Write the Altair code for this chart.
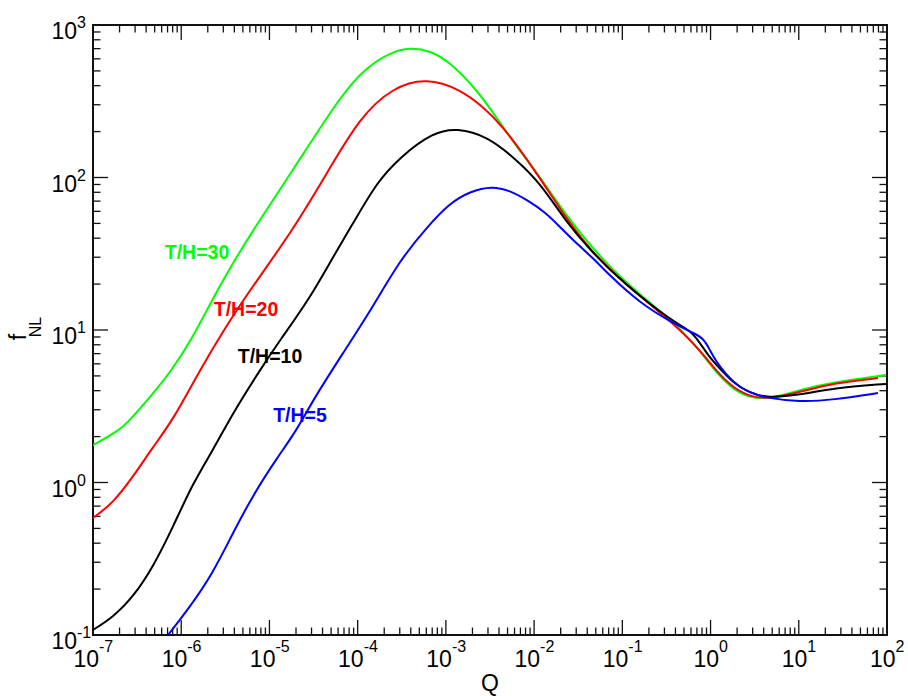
import altair as alt
import pandas as pd

# ---------------- data ----------------
series_names = ["T/H=30", "T/H=20", "T/H=10", "T/H=5"]
series_colors = ["#00ff00", "#ff0000", "#000000", "#0000ff"]

q_green = [1.00e-7, 2.02e-7, 2.62e-7, 4.43e-7, 7.46e-7, 1.36e-6, 2.23e-6, 3.57e-6, 6.52e-6, 1.85e-5,
           6.83e-5, 1.28e-4, 2.33e-4, 3.92e-4, 6.61e-4, 1.11e-3, 2.25e-3, 3.79e-3, 6.40e-3, 1.17e-2,
           2.36e-2, 5.89e-2, 0.158, 0.375, 0.585, 0.912, 1.18, 1.80, 3.03, 5.10, 10.3, 24.4, 97.5]
f_green = [1.76, 2.21, 2.57, 3.64, 5.22, 8.99, 15.7, 25.5, 45.3, 112,
           364, 531, 660, 712, 680, 572, 375, 245, 158, 101,
           55.1, 28.8, 17.0, 11.3, 8.7, 6.35, 5.22, 4.05, 3.53, 3.58, 4.05, 4.56, 5.07]

q_red = [1.00e-7, 1.69e-7, 2.84e-7, 4.79e-7, 8.07e-7, 1.63e-6, 3.30e-6, 6.03e-6, 1.85e-5, 4.49e-5,
         1.06e-4, 2.52e-4, 6.11e-4, 1.45e-3, 2.64e-3, 4.10e-3, 9.73e-3, 2.36e-2, 5.30e-2, 0.158,
         0.375, 0.760, 1.18, 1.80, 3.03, 5.10, 10.3, 24.4, 79.1]
f_red = [0.585, 0.734, 1.09, 1.71, 2.57, 5.47, 10.8, 18.3, 45.3, 107,
         249, 392, 450, 378, 290, 228, 117, 52.6, 28.8, 16.7,
         11.1, 7.39, 5.31, 4.17, 3.58, 3.58, 3.92, 4.49, 4.84]

q_black = [1.00e-7, 1.69e-7, 2.84e-7, 4.79e-7, 8.07e-7, 1.36e-6, 2.29e-6, 3.86e-6, 7.82e-6, 1.32e-5,
           2.88e-5, 5.25e-5, 9.33e-5, 1.66e-4, 3.02e-4, 7.14e-4, 1.34e-3, 2.92e-3, 6.40e-3, 1.17e-2,
           2.36e-2, 4.31e-2, 0.102, 0.375, 0.585, 0.760, 0.986, 1.18, 1.80, 2.80, 4.37, 10.3, 24.4, 97.5]
f_black = [0.108, 0.131, 0.177, 0.279, 0.511, 0.993, 1.63, 2.86, 5.47, 8.59,
           16.2, 30.1, 52.6, 93.3, 136, 198, 211, 187, 130, 92.0,
           50.3, 33.5, 20.3, 11.3, 10.0, 8.22, 6.55, 5.89, 4.49, 3.86, 3.58, 3.75, 4.17, 4.43]

q_blue = [7.08e-7, 1.26e-6, 2.29e-6, 3.86e-6, 6.52e-6, 1.22e-5, 2.05e-5, 3.12e-5, 6.83e-5, 1.49e-4,
          3.02e-4, 6.11e-4, 1.11e-3, 1.87e-3, 3.33e-3, 5.33e-3, 8.32e-3, 1.33e-2, 1.97e-2, 2.76e-2,
          4.90e-2, 6.70e-2, 0.158, 0.375, 0.632, 0.822, 0.986, 1.12, 1.80, 2.80, 4.37, 10.3, 24.4, 79.1]
f_blue = [0.100, 0.153, 0.255, 0.467, 0.828, 1.45, 2.21, 3.48, 7.06, 14.2,
          28.8, 47.3, 68.1, 81.0, 88.0, 82.0, 71.2, 59.4, 47.3, 38.9,
          28.8, 23.7, 15.0, 11.1, 9.55, 8.9, 7.39, 6.35, 4.49, 3.86, 3.58, 3.37, 3.48, 3.86]

# tick values and labels
x_major = [1e-7, 1e-6, 1e-5, 1e-4, 1e-3, 1e-2, 1e-1, 1e0, 1e1, 1e2]
x_exp = ["-7", "-6", "-5", "-4", "-3", "-2", "-1", "0", "1", "2"]
y_major = [1e-1, 1e0, 1e1, 1e2, 1e3]
y_exp = ["-1", "0", "1", "2", "3"]
minor_mult = [2, 3, 4, 5, 6, 7, 8, 9]

# ---------------- build tables ----------------
rows = []
for name, qs, fs in zip(series_names, [q_green, q_red, q_black, q_blue],
                        [f_green, f_red, f_black, f_blue]):
    for i, (q, f) in enumerate(zip(qs, fs)):
        rows.append({"series": name, "Q": q, "f": f, "i": i})
df = pd.DataFrame(rows)

x_minor = [m * d for d in x_major[:-1] for m in minor_mult]
y_minor = [m * d for d in y_major[:-1] for m in minor_mult]

W, H = 794, 610
FONT = "Liberation Sans"
xs = alt.Scale(type="log", domain=[1e-7, 1e2], nice=False)
ys = alt.Scale(type="log", domain=[0.1, 1000], nice=False)

lines = alt.Chart(df).mark_line(strokeWidth=2, clip=True, interpolate="basis").encode(
    x=alt.X("Q:Q", scale=xs, axis=None),
    y=alt.Y("f:Q", scale=ys, axis=None),
    color=alt.Color("series:N", scale=alt.Scale(domain=series_names, range=series_colors), legend=None),
    detail="series:N",
    order="i:Q",
)


def xrule(vals, y0, y1):
    return alt.Chart(pd.DataFrame({"Q": vals})).mark_rule(color="#111", strokeWidth=1.3).encode(
        x=alt.X("Q:Q", scale=xs, axis=None), y=alt.value(y0), y2=alt.value(y1))


def yrule(vals, x0, x1):
    return alt.Chart(pd.DataFrame({"f": vals})).mark_rule(color="#111", strokeWidth=1.3).encode(
        y=alt.Y("f:Q", scale=ys, axis=None), x=alt.value(x0), x2=alt.value(x1))


MAJ, MIN = 15, 7.5
ticks = [
    xrule(x_major, H, H - MAJ), xrule(x_minor, H, H - MIN),
    xrule(x_major, 0, MAJ), xrule(x_minor, 0, MIN),
    yrule(y_major, 0, MAJ), yrule(y_minor, 0, MIN),
    yrule(y_major, W, W - MAJ), yrule(y_minor, W, W - MIN),
]

xlab = pd.DataFrame({"Q": x_major, "e": x_exp})
xlab_neg = xlab[xlab["e"].str.startswith("-")]
xlab_pos = xlab[~xlab["e"].str.startswith("-")]


def xlabels(d, dx):
    base = alt.Chart(d).mark_text(align="right", baseline="alphabetic", dx=dx, fontSize=23,
                                  font=FONT, color="black").encode(
        x=alt.X("Q:Q", scale=xs, axis=None), y=alt.value(H + 32), text=alt.value("10"))
    sup = alt.Chart(d).mark_text(align="left", baseline="alphabetic", dx=dx, fontSize=16,
                                 font=FONT, color="black").encode(
        x=alt.X("Q:Q", scale=xs, axis=None), y=alt.value(H + 17), text="e:N")
    return [base, sup]


ylab = pd.DataFrame({"f": y_major, "e": y_exp})
ylabels = [
    alt.Chart(ylab).mark_text(align="right", baseline="alphabetic", dy=14, fontSize=23,
                              font=FONT, color="black").encode(
        y=alt.Y("f:Q", scale=ys, axis=None), x=alt.value(-16), text=alt.value("10")),
    alt.Chart(ylab).mark_text(align="left", baseline="alphabetic", dy=3, fontSize=16,
                              font=FONT, color="black").encode(
        y=alt.Y("f:Q", scale=ys, axis=None), x=alt.value(-16), text="e:N"),
]

one = pd.DataFrame({"a": [0]})


def free_text(txt, x, y, size, color="black", bold=False, angle=0, baseline="middle"):
    kw = dict(align="center", baseline=baseline, fontSize=size, font=FONT, color=color,
              fontWeight="bold" if bold else "normal")
    if angle:
        kw["angle"] = angle
    return alt.Chart(one).mark_text(**kw).encode(
        x=alt.value(x), y=alt.value(y), text=alt.value(txt))


labels = [
    free_text("T/H=30", 104, 228, 19.5, series_colors[0], True),
    free_text("T/H=20", 153, 285, 19.5, series_colors[1], True),
    free_text("T/H=10", 177, 332, 19.5, series_colors[2], True),
    free_text("T/H=5", 207, 391, 19.5, series_colors[3], True),
    free_text("Q", W / 2, H + 56, 23, baseline="alphabetic"),
    free_text("f", -74, 312, 23, angle=270),
    free_text("NL", -57, 302, 16, angle=270),
]

chart = alt.layer(
    *ticks, lines, *xlabels(xlab_neg, 6), *xlabels(xlab_pos, 8.5), *ylabels, *labels
).properties(
    width=W, height=H,
    autosize=alt.AutoSizeParams(type="none"),
    padding={"left": 93, "top": 25, "right": 21, "bottom": 61},
    background="white",
).configure_view(stroke="#111", strokeWidth=2)

chart.save("out.html", embed_options={"renderer": "svg", "actions": False})
